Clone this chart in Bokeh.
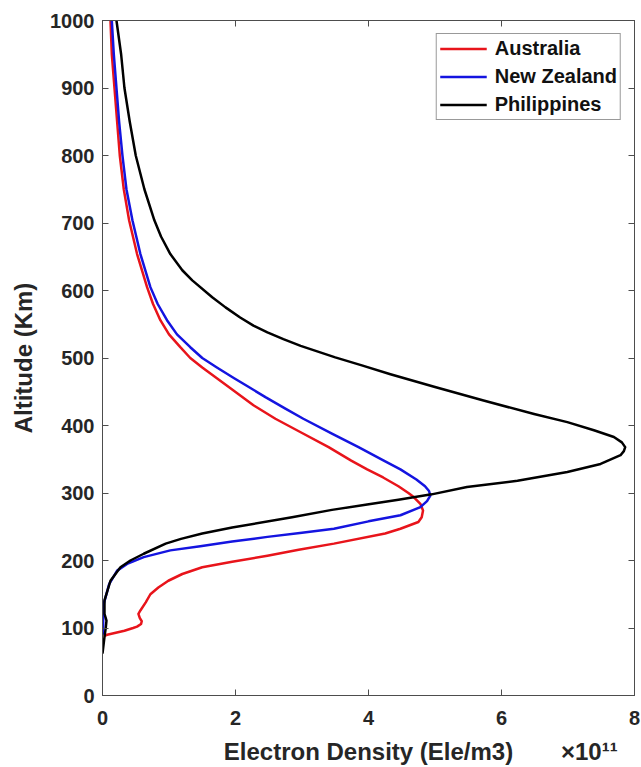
from bokeh.plotting import figure
from bokeh.models import LinearAxis, Range1d, FixedTicker
from bokeh.embed import file_html
from bokeh.resources import INLINE

# Electron density in units of 1e11 Ele/m3, altitude in km
aus_alt = [1000, 950, 900, 850, 800, 750, 704, 654, 605, 580, 556, 535, 516, 500, 486,
           470, 452, 430, 410, 390, 368, 348, 335, 323, 310, 300, 294, 284, 274, 264,
           257, 247, 240, 225, 216, 207, 198, 190, 180, 170, 160, 150, 138, 126, 121,
           115, 110, 106, 102, 100, 96, 93, 90, 88]
aus_ne = [0.12, 0.14, 0.18, 0.22, 0.26, 0.32, 0.40, 0.52, 0.67, 0.76, 0.87, 1.00, 1.17, 1.32, 1.50,
          1.72, 1.97, 2.27, 2.60, 2.98, 3.40, 3.74, 3.98, 4.22, 4.45, 4.60, 4.68, 4.78, 4.82, 4.80,
          4.75, 4.48, 4.25, 3.48, 2.95, 2.48, 1.95, 1.50, 1.20, 0.99, 0.84, 0.72, 0.65, 0.57, 0.54,
          0.56, 0.59, 0.58, 0.52, 0.46, 0.33, 0.20, 0.07, 0.02]

nz_alt = [1000, 950, 900, 850, 800, 750, 704, 654, 605, 580, 556, 535, 516, 500, 486,
          470, 457, 442, 425, 410, 388, 368, 348, 335, 320, 310, 303, 296, 288, 279,
          267, 258, 247, 241, 235, 228, 221, 215, 205, 195, 185, 165, 136, 110, 90]
nz_ne = [0.14, 0.17, 0.21, 0.25, 0.30, 0.36, 0.45, 0.57, 0.72, 0.83, 0.97, 1.12, 1.32, 1.50, 1.72,
         1.98, 2.20, 2.45, 2.75, 3.02, 3.45, 3.85, 4.23, 4.48, 4.72, 4.85, 4.91, 4.93, 4.88, 4.78,
         4.48, 4.00, 3.48, 3.00, 2.48, 1.95, 1.47, 1.02, 0.62, 0.37, 0.22, 0.10, 0.02, 0.01, 0.01]

ph_alt = [1000, 950, 900, 850, 800, 750, 704, 680, 654, 630, 615, 590, 575, 560, 548,
          538, 528, 518, 501, 489, 476, 457, 437, 417, 405, 393, 383, 375, 368, 362, 356,
          343, 331, 318, 309, 298, 290, 283, 275, 264, 249, 240, 232, 225, 210, 200, 190,
          170, 141, 121, 111, 101, 87, 62]
ph_ne = [0.21, 0.28, 0.33, 0.41, 0.50, 0.63, 0.78, 0.88, 1.02, 1.20, 1.35, 1.65, 1.85, 2.07, 2.27,
         2.48, 2.72, 2.98, 3.50, 3.90, 4.33, 5.00, 5.73, 6.49, 6.99, 7.39, 7.69, 7.81, 7.86, 7.84, 7.79,
         7.49, 6.99, 6.24, 5.48, 4.95, 4.45, 3.98, 3.45, 2.85, 1.95, 1.50, 1.18, 0.95, 0.62, 0.42, 0.27,
         0.12, 0.03, 0.03, 0.06, 0.05, 0.03, 0.00]

series_names = ["Australia", "New Zealand", "Philippines"]
series_colors = ["#e8141b", "#1414e0", "#000000"]
x_ticks = [0, 2, 4, 6, 8]
y_ticks = [0, 100, 200, 300, 400, 500, 600, 700, 800, 900, 1000]
x_title = "Electron Density (Ele/m3)"
x_exponent = "\u00d710\u00b9\u00b9"
y_title = "Altitude (Km)"

FONT = "Liberation Sans"
AX_COL = "#4d4d4d"
TXT_COL = "#262626"

p = figure(width=641, height=767, x_range=Range1d(0, 8), y_range=Range1d(0, 1000),
           output_backend="svg", toolbar_location=None,
           min_border_left=102, min_border_right=7, min_border_top=20, min_border_bottom=72)
p.xgrid.visible = False
p.ygrid.visible = False
p.outline_line_color = AX_COL
p.outline_line_width = 1

for (alt, ne), name, col in zip([(aus_alt, aus_ne), (nz_alt, nz_ne), (ph_alt, ph_ne)],
                                series_names, series_colors):
    p.line(ne, alt, line_color=col, line_width=2.5, legend_label=name, line_join="round")


def style_axis(ax, ticks, labels=True):
    ax.ticker = FixedTicker(ticks=ticks)
    ax.major_tick_in = 6
    ax.major_tick_out = 0
    ax.minor_tick_in = 0
    ax.minor_tick_out = 0
    ax.axis_line_color = AX_COL
    ax.major_tick_line_color = AX_COL
    if labels:
        ax.major_label_text_font = FONT
        ax.major_label_text_font_style = "bold"
        ax.major_label_text_font_size = "20px"
        ax.major_label_text_color = TXT_COL
        ax.axis_label_text_font = FONT
        ax.axis_label_text_font_style = "bold"
        ax.axis_label_text_font_size = "24px"
        ax.axis_label_text_color = TXT_COL
    else:
        ax.major_label_overrides = {t: "" for t in ticks}
        ax.major_label_standoff = 0


style_axis(p.xaxis[0], x_ticks)
style_axis(p.yaxis[0], y_ticks)
p.xaxis[0].major_label_standoff = 15
p.yaxis[0].axis_label = y_title
p.yaxis[0].major_label_standoff = 8
p.yaxis[0].axis_label_standoff = 10

# second bottom row: axis title and the exponent, as labels of a tickless axis
title_ticks = [4.0, 7.32]
title_ax = LinearAxis(ticker=FixedTicker(ticks=title_ticks),
                      major_label_overrides={title_ticks[0]: x_title, title_ticks[1]: x_exponent},
                      axis_line_color=None, major_tick_line_color=None, minor_tick_line_color=None,
                      major_label_standoff=4, major_label_text_font=FONT,
                      major_label_text_font_style="bold", major_label_text_font_size="24px",
                      major_label_text_color=TXT_COL)
p.add_layout(title_ax, "below")

top_ax = LinearAxis()
style_axis(top_ax, x_ticks, labels=False)
p.add_layout(top_ax, "above")
right_ax = LinearAxis()
style_axis(right_ax, y_ticks, labels=False)
p.add_layout(right_ax, "right")

lg = p.legend[0]
lg.location = "top_right"
lg.margin = 13
lg.padding = 3
lg.spacing = 5
lg.glyph_width = 47
lg.glyph_height = 23
lg.label_height = 23
lg.label_standoff = 8
lg.label_text_font = FONT
lg.label_text_font_style = "bold"
lg.label_text_font_size = "20px"
lg.label_text_color = "#111111"
lg.border_line_color = "#333333"
lg.border_line_width = 1
lg.background_fill_color = "white"
lg.background_fill_alpha = 1.0

open("out.html", "w").write(file_html(p, INLINE))
